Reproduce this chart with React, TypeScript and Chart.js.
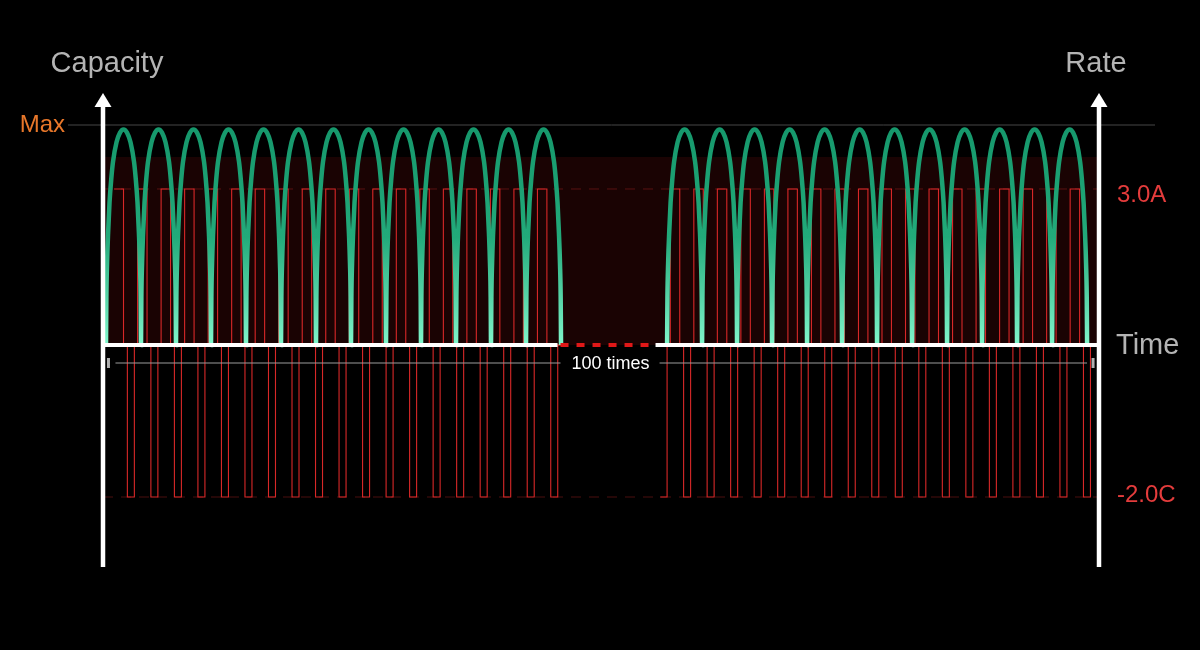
import { useEffect, useRef } from 'react'
import { Chart, registerables, type ChartConfiguration, type Plugin } from 'chart.js'
Chart.register(...registerables)

// time is counted in capacity cycles (one arch = 1 unit)
const timeRange = [-0.086, 28.37]
const breakRange = [12.9, 15.7]
const measureRange = [0.07, 28.2]
const measureLabel = '100 times'

// capacity arches (fraction of Max)
const capacityMax = 1
const capacityPeak = 0.98
const bandLevel = 0.855
const archFractions = [0, 0.01, 0.03, 0.06, 0.1, 0.15, 0.2, 0.3, 0.4, 0.5, 0.6, 0.7, 0.8, 0.85, 0.9, 0.94, 0.97, 0.99, 1]
const archHeights = [0, 0.22, 0.38, 0.52, 0.66, 0.77, 0.85, 0.94, 0.985, 1, 0.985, 0.94, 0.85, 0.77, 0.66, 0.52, 0.38, 0.22, 0]
const archGroupStarts = [0, 16.03]
const archGroupCounts = [13, 12]

// rate pulses: charge +3.0A, rest, discharge -2.0C, rest
const chargeRate = 3.0
const dischargeRate = -2.0
const pulseLevels = [chargeRate, 0, dischargeRate, 0]
const pulseDurations = [0.27, 0.11, 0.2, 0.092]
const pulseGroupStarts = [0.23, 15.45]
const pulseGroupCycles = [19, 19]
const pulseGroupSkip = [0, 2] // right block opens on a discharge pulse

const FONT = 'Helvetica, "Liberation Sans", Arial, sans-serif'

type Pt = { x: number; y: number | null }

function buildArches(): Pt[] {
  const pts: Pt[] = []
  archGroupStarts.forEach((start, g) => {
    for (let k = 0; k < archGroupCounts[g]; k++) {
      archFractions.forEach((f, i) => {
        if (k > 0 && i === 0) return
        pts.push({ x: start + k + f, y: archHeights[i] * capacityPeak })
      })
    }
    pts.push({ x: start + archGroupCounts[g] + 0.01, y: null })
  })
  return pts
}

function buildPulses(keep: number): Pt[] {
  const pts: Pt[] = []
  pulseGroupStarts.forEach((start, g) => {
    let t = start
    for (let c = 0; c < pulseGroupCycles[g]; c++) {
      pulseLevels.forEach((lv, i) => {
        if (!(c === 0 && i < pulseGroupSkip[g])) pts.push({ x: t, y: lv === keep ? lv : 0 })
        t += pulseDurations[i]
      })
    }
    pts.push({ x: t, y: 0 })
    pts.push({ x: t + 0.01, y: null })
  })
  return pts
}

const flat = (v: number): Pt[] => [{ x: timeRange[0], y: v }, { x: timeRange[1], y: v }]

const decorations: Plugin = {
  id: 'decorations',
  beforeDatasetsDraw(chart) {
    const { ctx, chartArea: a, scales } = chart
    const yMax = scales.y.getPixelForValue(capacityMax)
    ctx.save()
    ctx.strokeStyle = '#464646'
    ctx.lineWidth = 1
    ctx.beginPath()
    ctx.moveTo(a.left - 35, yMax)
    ctx.lineTo(a.right + 56, yMax)
    ctx.stroke()
    ctx.restore()
  },
  afterDatasetsDraw(chart) {
    const { ctx, chartArea: a, scales } = chart
    const x = scales.x
    const y0 = scales.y.getPixelForValue(0)
    const xb0 = x.getPixelForValue(breakRange[0])
    const xb1 = x.getPixelForValue(breakRange[1])
    ctx.save()

    // time axis with break
    ctx.lineWidth = 4
    ctx.strokeStyle = '#ffffff'
    ctx.beginPath()
    ctx.moveTo(a.left, y0); ctx.lineTo(xb0, y0)
    ctx.moveTo(xb1, y0); ctx.lineTo(a.right, y0)
    ctx.stroke()
    ctx.strokeStyle = '#e01818'
    ctx.setLineDash([8, 8])
    ctx.beginPath()
    ctx.moveTo(xb0 + 3, y0); ctx.lineTo(xb1, y0)
    ctx.stroke()
    ctx.setLineDash([])

    // vertical axes with arrows
    ctx.strokeStyle = '#ffffff'
    ctx.fillStyle = '#ffffff'
    ctx.lineWidth = 4.5
    for (const ax of [a.left, a.right]) {
      ctx.beginPath()
      ctx.moveTo(ax, a.bottom); ctx.lineTo(ax, a.top + 12)
      ctx.stroke()
      ctx.beginPath()
      ctx.moveTo(ax, a.top)
      ctx.lineTo(ax - 8.5, a.top + 14)
      ctx.lineTo(ax + 8.5, a.top + 14)
      ctx.closePath()
      ctx.fill()
    }

    // repetition span
    const ym = y0 + 18
    const m0 = x.getPixelForValue(measureRange[0])
    const m1 = x.getPixelForValue(measureRange[1])
    const mc = (xb0 + xb1) / 2 + 4
    ctx.font = `18px ${FONT}`
    const tw = ctx.measureText(measureLabel).width
    ctx.strokeStyle = '#9c9c9c'
    ctx.lineWidth = 1
    ctx.beginPath()
    ctx.moveTo(m0 + 7, ym); ctx.lineTo(mc - tw / 2 - 11, ym)
    ctx.moveTo(mc + tw / 2 + 10, ym); ctx.lineTo(m1 - 6, ym)
    ctx.stroke()
    ctx.fillStyle = '#b0b0b0'
    ctx.fillRect(m0 - 1.5, ym - 5, 3, 10)
    ctx.fillRect(m1 - 1.5, ym - 5, 3, 10)
    ctx.fillStyle = '#ffffff'
    ctx.textAlign = 'center'
    ctx.textBaseline = 'alphabetic'
    ctx.fillText(measureLabel, mc, y0 + 24)

    // axis titles
    ctx.font = `29px ${FONT}`
    ctx.fillStyle = '#b4b4b4'
    ctx.fillText('Capacity', a.left + 4, a.top - 21)
    ctx.fillText('Rate', a.right - 3, a.top - 21)
    ctx.textAlign = 'left'
    ctx.fillText('Time', a.right + 17, y0 + 9)

    // level labels
    ctx.font = `24px ${FONT}`
    ctx.fillStyle = '#e8772a'
    ctx.textAlign = 'right'
    ctx.fillText('Max', a.left - 38, scales.y.getPixelForValue(capacityMax) + 7)
    ctx.fillStyle = '#e43c3c'
    ctx.textAlign = 'left'
    ctx.fillText(`${chargeRate.toFixed(1)}A`, a.right + 18, scales.yc.getPixelForValue(chargeRate) + 13)
    ctx.fillText(`${dischargeRate.toFixed(1)}C`, a.right + 18, scales.yd.getPixelForValue(dischargeRate) + 5)
    ctx.restore()
  },
}

const config: ChartConfiguration<'line', Pt[]> = {
  type: 'line',
  data: {
    datasets: [
      {
        data: buildArches(),
        yAxisID: 'y',
        borderWidth: 4.5,
        borderColor: (c) => {
          const chart = c.chart
          if (!chart.chartArea) return '#1fa878'
          const yTop = chart.scales.y.getPixelForValue(capacityPeak)
          const yBot = chart.scales.y.getPixelForValue(0)
          const g = chart.ctx.createLinearGradient(0, yTop, 0, yBot)
          g.addColorStop(0, '#16986c')
          g.addColorStop(0.5, '#22aa7a')
          g.addColorStop(1, '#80f6cb')
          return g
        },
        cubicInterpolationMode: 'monotone',
        pointRadius: 0,
        spanGaps: false,
        fill: false,
      },
      {
        data: buildPulses(chargeRate),
        yAxisID: 'yc',
        borderColor: '#d82828',
        borderWidth: 1.1,
        stepped: true,
        pointRadius: 0,
        fill: false,
      },
      {
        data: buildPulses(dischargeRate),
        yAxisID: 'yd',
        borderColor: '#d82828',
        borderWidth: 1.1,
        stepped: true,
        pointRadius: 0,
        fill: false,
      },
      {
        data: flat(chargeRate),
        yAxisID: 'yc',
        borderColor: '#5a1212',
        borderWidth: 1,
        borderDash: [10, 8],
        pointRadius: 0,
        fill: false,
      },
      {
        data: flat(dischargeRate),
        yAxisID: 'yd',
        borderColor: '#4a0e0e',
        borderWidth: 1,
        borderDash: [10, 8],
        pointRadius: 0,
        fill: false,
      },
      {
        data: flat(bandLevel),
        yAxisID: 'y',
        borderWidth: 0,
        borderColor: 'rgba(0,0,0,0)',
        backgroundColor: '#1a0303',
        pointRadius: 0,
        fill: 'origin',
      },
    ],
  },
  options: {
    responsive: false,
    animation: false,
    events: [],
    layout: { padding: { left: 103, right: 101, top: 93, bottom: 83 } },
    plugins: {
      legend: { display: false },
      tooltip: { enabled: false },
    },
    scales: {
      x: { type: 'linear', min: timeRange[0], max: timeRange[1], display: false },
      y: { min: -1.0091, max: 1.1455, display: false },
      yc: { min: -4.269, max: 4.846, display: false },
      yd: { min: -2.921, max: 3.316, display: false },
    },
  },
  plugins: [decorations],
}

export default function App() {
  const ref = useRef<HTMLCanvasElement>(null)
  useEffect(() => {
    if (!ref.current) return
    const chart = new Chart(ref.current, config)
    return () => chart.destroy()
  }, [])
  return (
    <div style={{ position: 'fixed', left: 0, top: 0, width: 1200, height: 650, background: '#000' }}>
      <canvas ref={ref} width={1200} height={650} style={{ display: 'block', width: 1200, height: 650 }} />
    </div>
  )
}
